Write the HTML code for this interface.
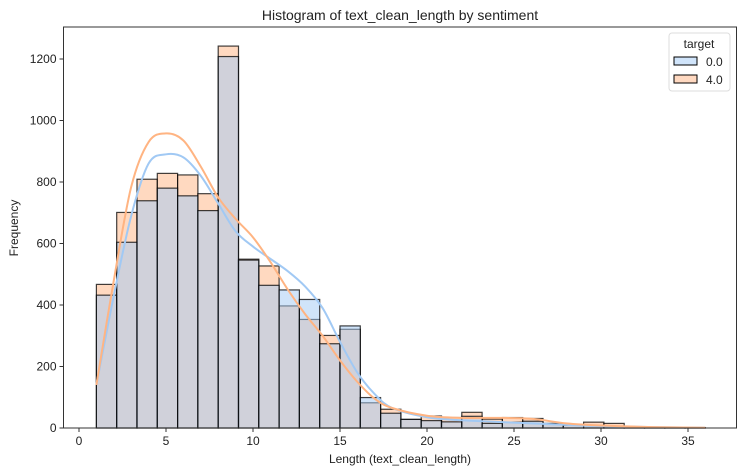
<!DOCTYPE html>
<html><head><meta charset="utf-8"><style>
body{margin:0;background:#fff;}
svg text{font-family:"Liberation Sans","DejaVu Sans",sans-serif;fill:#222;}
</style></head><body>
<svg id="chart" width="743" height="470"></svg>
<script>
const binStart = 1, binWidth = 35/30;
const counts0 = [432,604,739,780,755,707,1208,546,464,449,418,274,332,99,48,28,24,20,38,15,19,22,14,9,8,5,3,2,2,1];
const counts4 = [467,701,809,828,823,762,1242,549,527,397,353,301,321,82,61,28,39,34,51,29,34,31,15,11,19,15,3,2,2,1];
const kdeX = [1,2,3,4,5,6,7,8,9,10,11,12,13,14,15,16,17,18,20,22,24,26,28,30,33,36];
const kde0 = [140,430,690,860,890,880,820,730,640,590,550,510,460,390,280,180,110,65,35,25,20,15,10,6,3,1];
const kde4 = [140,480,784,930,958,935,850,750,680,620,540,450,370,300,220,150,95,65,40,33,33,30,15,8,3,1];
const xTicks = [0,5,10,15,20,25,30,35];
const yTicks = [0,200,400,600,800,1000,1200];

const NS='http://www.w3.org/2000/svg';
const svg=document.getElementById('chart');
const L=63.5,R=736.5,T=27,B=428;
const sx=v=>79+v*(688-79)/35;
const sy=v=>428-v*(428-59)/1200;
function mk(tag,attrs,parent){const e=document.createElementNS(NS,tag);for(const k in attrs)e.setAttribute(k,attrs[k]);(parent||svg).appendChild(e);return e;}

function bars(arr,fill,name){
  const g=mk('g',{});
  
  
  arr.forEach((c,i)=>{
    const x0=sx(binStart+i*binWidth),x1=sx(binStart+(i+1)*binWidth);
    const r=mk('rect',{x:x0,y:sy(c),width:x1-x0,height:sy(0)-sy(c),fill:fill,'fill-opacity':0.5,stroke:'#000','stroke-opacity':0.75,'stroke-width':1.2},g);
    
    
  });
}
bars(counts4,'#ffb482','target-4');
bars(counts0,'#a1c9f4','target-0');

function curve(ys,color,name){
  const pts=kdeX.map((x,i)=>[sx(x),sy(ys[i])]);
  let d='M'+pts[0][0]+','+pts[0][1];
  for(let i=0;i<pts.length-1;i++){
    const p0=pts[Math.max(0,i-1)],p1=pts[i],p2=pts[i+1],p3=pts[Math.min(pts.length-1,i+2)];
    const c1=[p1[0]+(p2[0]-p0[0])/6,p1[1]+(p2[1]-p0[1])/6];
    const c2=[p2[0]-(p3[0]-p1[0])/6,p2[1]-(p3[1]-p1[1])/6];
    d+=` C${c1[0]},${c1[1]} ${c2[0]},${c2[1]} ${p2[0]},${p2[1]}`;
  }
  const p=mk('path',{d:d,fill:'none',stroke:color,'stroke-width':2});
  
  
}
curve(kde0,'#a1c9f4','kde-target-0');
curve(kde4,'#ffb482','kde-target-4');

const frame=mk('rect',{x:L,y:T,width:R-L,height:B-T,fill:'none',stroke:'#333','stroke-width':1});



xTicks.forEach(v=>{
  mk('line',{x1:sx(v),x2:sx(v),y1:B,y2:B+4,stroke:'#333'});
  const t=mk('text',{x:sx(v),y:B+17,'text-anchor':'middle','font-size':12});
  t.textContent=v;
  
  
});
yTicks.forEach(v=>{
  mk('line',{x1:L-4,x2:L,y1:sy(v),y2:sy(v),stroke:'#333'});
  const t=mk('text',{x:L-7,y:sy(v)+4,'text-anchor':'end','font-size':12});
  t.textContent=v;
  
  
});
</script>
<svg width="743" height="470" style="position:absolute;left:0;top:0">
<text x="400" y="20" text-anchor="middle" font-size="14">Histogram of text_clean_length by sentiment</text>
<text x="400" y="463" text-anchor="middle" font-size="12">Length (text_clean_length)</text>
<text x="18" y="228" text-anchor="middle" font-size="12" transform="rotate(-90 18 228)">Frequency</text>
<g>
<rect x="669" y="33" width="61" height="58" rx="3" fill="#fff" fill-opacity="0.8" stroke="#ddd"/>
<text x="699" y="48" text-anchor="middle" font-size="12">target</text>
<rect x="674" y="57" width="23" height="8" fill="#d0e4fa" stroke="#000"/>
<text x="706" y="66" font-size="12">0.0</text>
<rect x="674" y="75" width="23" height="8" fill="#ffd9c1" stroke="#000"/>
<text x="706" y="84" font-size="12">4.0</text>
</g>
</svg>
</body></html>
